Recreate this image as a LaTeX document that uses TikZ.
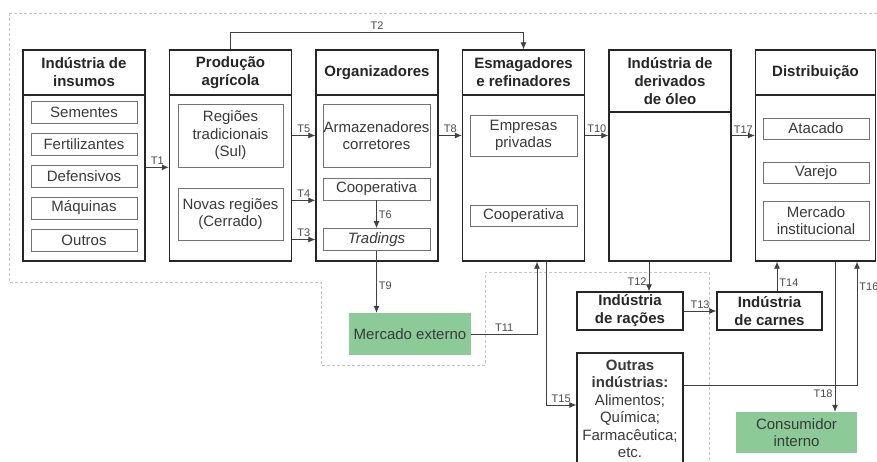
\documentclass[tikz,border=0pt]{standalone}
\usepackage{fontspec}
\setmainfont{Liberation Sans}
\usetikzlibrary{calc,arrows.meta}

\definecolor{boxgreen}{RGB}{140,202,152}
\definecolor{txtgray}{RGB}{58,58,58}

\begin{document}
\begin{tikzpicture}[x=1pt,y=-1pt]
        \tikzstyle{every node}=[inner sep=0pt, align=center, text=txtgray, font=\fontsize{15}{17.5}\selectfont]
        \tikzstyle{head}=[draw=black!85, line width=1.4pt, minimum width=122pt, font=\bfseries\fontsize{15}{18}\selectfont, text=black!85]
        \tikzstyle{body}=[draw=black!85, line width=1.4pt, minimum width=122pt]
        \tikzstyle{item}=[draw=black!55, line width=0.7pt, minimum width=106pt]
        \tikzstyle{market}=[fill=boxgreen, minimum width=122pt, minimum height=42pt]
        \tikzstyle{conn}=[draw=black!75, line width=0.8pt, -{Latex[length=7pt,width=6pt]}]
        \tikzstyle{lbl}=[font=\fontsize{11}{13}\selectfont, text=black!70, inner sep=2pt]

            \clip (0,0) rectangle (877,461);
            \fill[white] (0,0) rectangle (877,461);

            % dashed outline
            \draw[gray!45, densely dashed, line width=0.6pt] (9,13) -- (877,13);
            \draw[gray!45, densely dashed, line width=0.6pt] (9,13) -- (9,282) -- (321,282) -- (321,365)
                -- (485,365) -- (485,272) -- (709,272) -- (709,461);

            % main columns
            \node[head, minimum height=45pt] (H1) at (84,72.5) {Indústria de\\insumos};
            \node[body, minimum height=166pt] (B1) at ($(H1)+(0,105.5)$) {};
            \node[head, minimum height=45pt] (H2) at ($(H1)+(146.5,0)$) {Produção\\agrícola};
            \node[body, minimum height=166pt] (B2) at ($(H2)+(0,105.5)$) {};
            \node[head, minimum height=45pt] (H3) at ($(H2)+(146.5,0)$) {Organizadores};
            \node[body, minimum height=166pt] (B3) at ($(H3)+(0,105.5)$) {};
            \node[head, minimum height=45pt] (H4) at ($(H3)+(146.5,0)$) {Esmagadores\\e refinadores};
            \node[body, minimum height=166pt] (B4) at ($(H4)+(0,105.5)$) {};
            \node[head, minimum height=62pt] (H5) at (670,81) {Indústria de\\derivados\\de óleo};
            \node[body, minimum height=149pt] (B5) at ($(H5)+(0,105.5)$) {};
            \node[head, minimum width=120pt, minimum height=45pt] (H6) at (815.5,72.5) {Distribuição};
            \node[body, minimum width=120pt, minimum height=166pt] (B6) at ($(H6)+(0,105.5)$) {};

            % inner boxes
            \foreach \t [count=\i] in {Sementes,Fertilizantes,Defensivos,Máquinas,Outros}
                \node[item, minimum height=22pt] (I\i) at (84,80+32*\i) {\t};

            \node[item, minimum width=105pt, minimum height=63pt] (R1) at (230.5,135.5) {Regiões\\tradicionais\\(Sul)};
            \node[item, minimum width=105pt, minimum height=52pt] (R2) at (230.5,214) {Novas regiões\\(Cerrado)};

            \node[item, minimum width=107pt, minimum height=63pt] (O1) at (376.5,135.5) {Armazenadores\\corretores};
            \node[item, minimum width=107pt, minimum height=22pt] (O2) at (376.5,189) {Cooperativa};
            \node[item, minimum width=107pt, minimum height=22pt] (O3) at (376.5,239.5) {\itshape Tradings};

            \node[item, minimum width=107pt, minimum height=41pt] (E1) at (523.5,135.5) {Empresas\\privadas};
            \node[item, minimum width=107pt, minimum height=21pt] (E2) at (523.5,215.5) {Cooperativa};

            \node[item, minimum height=21pt] (D1) at (816,128.5) {Atacado};
            \node[item, minimum height=21pt] (D2) at (816,172.5) {Varejo};
            \node[item, minimum height=39pt] (D3) at (816,220.5) {Mercado\\institucional};

            % lower boxes
            \node[market] (ME) at (410,334) {Mercado externo};
            \node[head, minimum width=106pt, minimum height=38pt] (IR) at (630,311) {Indústria\\de rações};
            \node[head, minimum width=105pt, minimum height=38pt] (IC) at (769.5,311) {Indústria\\de carnes};
            \node[body, minimum width=106pt, minimum height=112pt] (OI) at (630,409)
                {\textbf{Outras}\\\textbf{indústrias:}\\Alimentos;\\Química;\\Farmacêutica;\\etc.};
            \node[market, minimum width=121pt, minimum height=41pt] (CI) at (796.5,432.5) {Consumidor\\interno};

            % flows
            \draw[conn] (B1.east |- R1.south) -- node[lbl, above]{T1} (B2.west |- R1.south);
            \draw[conn] (H2.north) |- node[lbl, above, pos=0.75]{T2} ($(H4.north)+(0,-17)$) -- (H4.north);
            \draw[conn] (B2.east |- O1) -- node[lbl, above]{T5} (B3.west |- O1);
            \draw[conn] (B2.east |- O2.south) -- node[lbl, above]{T4} (B3.west |- O2.south);
            \draw[conn] (B2.east |- O3) -- node[lbl, above]{T3} (B3.west |- O3);
            \draw[conn] (O2.south) -- node[lbl, right]{T6} (O3.north);
            \draw[conn] (B3.east |- O1) -- node[lbl, above]{T8} (B4.west |- O1);
            \draw[conn] (B4.east |- E1) -- node[lbl, above]{T10} (B5.west |- E1);
            \draw[conn] (B5.east |- E1) -- node[lbl, above]{T17} (B6.west |- E1);
            \draw[conn] (O3.south) -- node[lbl, right, pos=0.57]{T9} (O3.south |- ME.north);

            \coordinate (t11) at ($(B4.south)+(13.5,0)$);
            \draw[conn] (ME.east) -| node[lbl, above, pos=0.25]{T11} (t11);
            \coordinate (t15) at ($(B4.south)+(22.5,0)$);
            \draw[conn] (t15) |- node[lbl, above, pos=0.75]{T15} ($(OI.west)+(0,-4)$);
            \coordinate (t12) at ($(B5.south)+(-21,0)$);
            \draw[conn] (t12) -- node[lbl, left, pos=0.68]{T12} (t12 |- IR.north);
            \draw[conn] (IR.east) -- node[lbl, above]{T13} (IC.west);
            \coordinate (t14) at ($(IC.north)+(7.5,0)$);
            \draw[conn] (t14) -- node[lbl, right, pos=0.3]{T14} (t14 |- B6.south);
            \coordinate (t16) at ($(OI.east)+(0,-24)$);
            \coordinate (t16e) at ($(B6.south)+(41.5,0)$);
            \draw[conn] (t16) -| node[lbl, right, pos=0.9]{T16} (t16e);
            \coordinate (t18) at ($(B6.south)+(19.5,0)$);
            \draw[conn] (t18) -- node[lbl, left, pos=0.88]{T18} (t18 |- CI.north);

        \end{tikzpicture}
\end{document}
